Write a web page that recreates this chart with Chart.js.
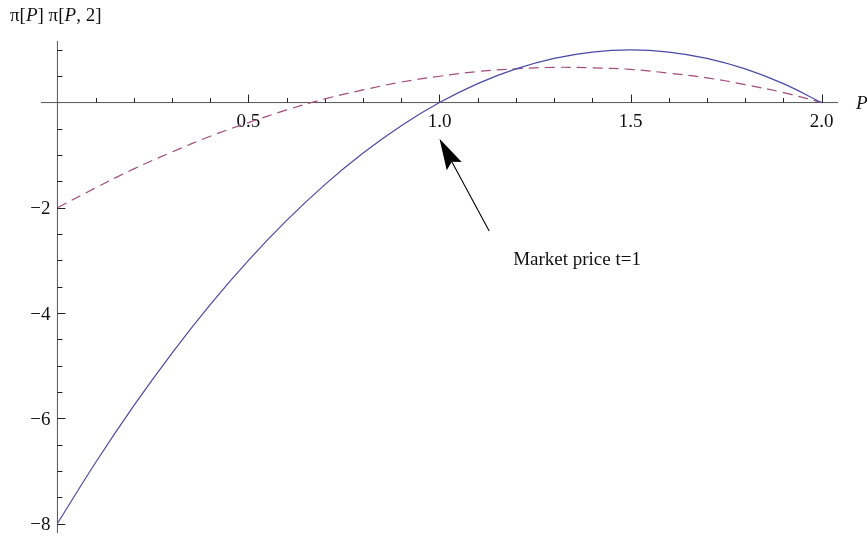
<!DOCTYPE html>
<html>
<head>
<meta charset="utf-8">
<script src="https://cdn.jsdelivr.net/npm/chart.js@4.4.1/dist/chart.umd.min.js"></script>
<style>
  html,body{margin:0;padding:0;background:#fff;}
  #wrap{width:867px;height:536px;position:relative;}
</style>
</head>
<body>
<div id="wrap"><canvas id="chart"></canvas></div>
<script>
// values
const P_VALUES = [0,0.1,0.2,0.3,0.4,0.5,0.6,0.7,0.8,0.9,1.0,1.1,1.2,1.3,1.4,1.5,1.6,1.7,1.8,1.9,2.0];
const PI_P   = [-8,-6.84,-5.76,-4.76,-3.84,-3,-2.24,-1.56,-0.96,-0.44,0,0.36,0.64,0.84,0.96,1,0.96,0.84,0.64,0.36,0];
const PI_P2  = [-2,-1.62,-1.26,-0.94,-0.64,-0.38,-0.14,0.07,0.24,0.39,0.5,0.59,0.64,0.67,0.66,0.63,0.56,0.47,0.34,0.19,0];

const X_MAJOR = [0.5,1.0,1.5,2.0];
const X_LABELS = ['0.5','1.0','1.5','2.0'];
const X_MINOR = [0.1,0.2,0.3,0.4,0.6,0.7,0.8,0.9,1.1,1.2,1.3,1.4,1.6,1.7,1.8,1.9];
const Y_MAJOR = [-2,-4,-6,-8];
const Y_LABELS = ['\u22122','\u22124','\u22126','\u22128'];
const Y_MINOR = [1,0.5,-0.5,-1,-1.5,-2.5,-3,-3.5,-4.5,-5,-5.5,-6.5,-7,-7.5];

// annotation (data coords): arrow tip, arrow tail, text centre
const ARROW_TIP = {x:1.0, y:-0.69};
const ARROW_TAIL = {x:1.13, y:-2.44};
const NOTE = {x:1.36, y:-2.96, text:'Market price t=1'};

const FONT = '"Liberation Serif", "DejaVu Serif", serif';
const FS = 19;
const AXIS_COLOR = '#555';

const pts = ys => P_VALUES.map((p,i) => ({x:p, y:ys[i]}));

const axesPlugin = {
  id:'mathAxes',
  beforeDatasetsDraw(chart){
    const {ctx, chartArea:a, scales:{x,y}} = chart;
    const x0 = x.getPixelForValue(0), y0 = y.getPixelForValue(0);
    ctx.save();
    ctx.strokeStyle = AXIS_COLOR;
    ctx.lineWidth = 1;
    ctx.beginPath();
    ctx.moveTo(a.left, y0); ctx.lineTo(a.right, y0);
    ctx.moveTo(x0, a.top); ctx.lineTo(x0, a.bottom);
    ctx.stroke();

    ctx.strokeStyle = '#222';
    ctx.beginPath();
    X_MINOR.forEach(v => { const px = Math.round(x.getPixelForValue(v))+0.5; ctx.moveTo(px,y0); ctx.lineTo(px,y0-4.5); });
    X_MAJOR.forEach(v => { const px = Math.round(x.getPixelForValue(v))+0.5; ctx.moveTo(px,y0); ctx.lineTo(px,y0-8); });
    Y_MINOR.forEach(v => { const py = Math.round(y.getPixelForValue(v))+0.5; ctx.moveTo(x0,py); ctx.lineTo(x0+5,py); });
    Y_MAJOR.forEach(v => { const py = Math.round(y.getPixelForValue(v))+0.5; ctx.moveTo(x0,py); ctx.lineTo(x0+8,py); });
    ctx.stroke();

    ctx.fillStyle = '#111';
    ctx.font = FS + 'px ' + FONT;
    ctx.textBaseline = 'alphabetic';
    ctx.textAlign = 'center';
    X_MAJOR.forEach((v,i) => ctx.fillText(X_LABELS[i], x.getPixelForValue(v), y0+24));
    ctx.textAlign = 'right';
    Y_MAJOR.forEach((v,i) => ctx.fillText(Y_LABELS[i], x0-7, y.getPixelForValue(v)+6.5));

    // axis labels
    ctx.textAlign = 'left';
    ctx.font = 'italic ' + FS + 'px ' + FONT;
    ctx.fillText('P', a.right+18, y0+6.5);

    const parts = [['\u03c0[',false],['P',true],['] \u03c0[',false],['P',true],[', 2]',false]];
    let tx = 10;
    parts.forEach(([s,it]) => {
      ctx.font = (it ? 'italic ' : '') + FS + 'px ' + FONT;
      ctx.fillText(s, tx, 21);
      tx += ctx.measureText(s).width;
    });
    ctx.restore();
  },
  afterDraw(chart){
    const {ctx, scales:{x,y}} = chart;
    const tx = x.getPixelForValue(ARROW_TIP.x), ty = y.getPixelForValue(ARROW_TIP.y);
    const sx = x.getPixelForValue(ARROW_TAIL.x), sy = y.getPixelForValue(ARROW_TAIL.y);
    const dx = tx-sx, dy = ty-sy, len = Math.hypot(dx,dy);
    const ux = dx/len, uy = dy/len, nx = -uy, ny = ux;
    const hl = 31, hw = 8.5, notch = 5;
    const bx = tx - ux*hl, by = ty - uy*hl;
    ctx.save();
    ctx.strokeStyle = '#000';
    ctx.lineWidth = 1.1;
    ctx.beginPath();
    ctx.moveTo(sx,sy); ctx.lineTo(bx+ux*notch, by+uy*notch);
    ctx.stroke();
    ctx.fillStyle = '#000';
    ctx.beginPath();
    ctx.moveTo(tx,ty);
    ctx.lineTo(bx+nx*hw, by+ny*hw);
    ctx.lineTo(bx+ux*notch, by+uy*notch);
    ctx.lineTo(bx-nx*hw, by-ny*hw);
    ctx.closePath();
    ctx.fill();

    ctx.font = FS + 'px ' + FONT;
    ctx.fillStyle = '#111';
    ctx.textAlign = 'center';
    ctx.textBaseline = 'alphabetic';
    ctx.fillText(NOTE.text, x.getPixelForValue(NOTE.x), y.getPixelForValue(NOTE.y)+6.5);
    ctx.restore();
  }
};

new Chart(document.getElementById('chart'), {
  type:'line',
  data:{
    datasets:[
      {label:'\u03c0[P]', data:pts(PI_P), borderColor:'#4a4aa6', borderWidth:1.2, pointRadius:0, tension:0.4, fill:false},
      {label:'\u03c0[P, 2]', data:pts(PI_P2), borderColor:'#a04d7c', borderWidth:1.2, borderDash:[10,6], pointRadius:0, tension:0.4, fill:false}
    ]
  },
  options:{
    responsive:true, maintainAspectRatio:false, animation:false,
    layout:{padding:{left:41, right:29, top:41, bottom:3}},
    plugins:{legend:{display:false}, tooltip:{enabled:false}},
    scales:{
      x:{type:'linear', min:-0.043, max:2.043, display:false},
      y:{type:'linear', min:-8.18, max:1.17, display:false}
    }
  },
  plugins:[axesPlugin]
});
</script>
</body>
</html>
